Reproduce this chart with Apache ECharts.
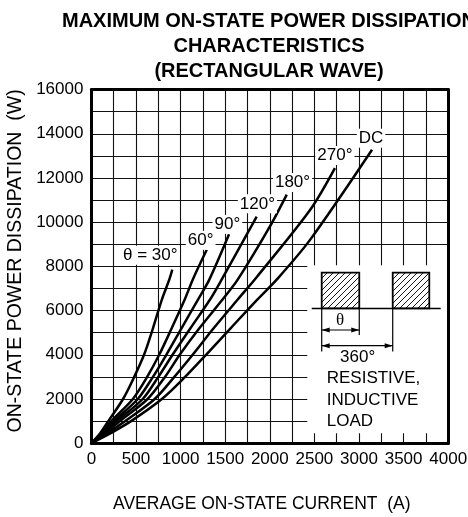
<!DOCTYPE html>
<html><head><meta charset="utf-8">
<script src="https://cdn.jsdelivr.net/npm/echarts@6/dist/echarts.min.js"></script>
<style>html,body{margin:0;padding:0;background:#fff}#c{width:468px;height:517px}</style>
</head><body><div id="c"></div>
<script>
// ---- data ----
const xTickLabels = [0, 500, 1000, 1500, 2000, 2500, 3000, 3500, 4000];
const yTickLabels = [0, 2000, 4000, 6000, 8000, 10000, 12000, 14000, 16000];
const curveNames = ['θ = 30°', '60°', '90°', '120°', '180°', '270°', 'DC'];
const theta30  = [[0,0],[90,400],[190,1000],[355,2000],[480,3000],[590,4000],[690,5200],[790,6500],[873,7400],[907,7850]];
const theta60  = [[0,0],[110,420],[225,1000],[465,2000],[625,3000],[760,4000],[900,5200],[1046,6500],[1136,7400],[1293,8750]];
const theta90  = [[0,0],[120,420],[255,1000],[520,2000],[690,3000],[840,4000],[1010,5200],[1195,6500],[1322,7400],[1543,9450]];
const theta120 = [[0,0],[130,420],[285,1000],[575,2000],[750,3000],[910,4000],[1110,5200],[1330,6500],[1460,7400],[1853,10250]];
const theta180 = [[0,0],[150,430],[320,1000],[630,2000],[825,3000],[990,4000],[1210,5200],[1470,6500],[1640,7400],[2000,9800],[2190,11250]];
const theta270 = [[0,0],[170,420],[380,1000],[710,2000],[930,3000],[1135,4000],[1370,5200],[1640,6500],[1850,7500],[2451,10550],[2730,12450]];
const dcCurve  = [[0,0],[200,420],[445,1000],[790,2000],[1050,3000],[1285,4000],[1560,5200],[1860,6500],[2077,7400],[2451,9200],[3146,13280]];
const curves = [theta30, theta60, theta90, theta120, theta180, theta270, dcCurve];

// ---- layout (annotation anchors, in data units) ----
const labelAnchors = [[660,8500],[1225,9180],[1524,9900],[1861,10830],[2255,11800],[2730,13020],[3135,13800]];
const insetBox = [[2420,450],[4000,8050]];
const inset = {
  baseY: 6100, baseX: [2470, 3916], pulseTop: 7715,
  pulses: [[2582, 3003], [3378, 3788]],
  thetaArrowY: 5122, spanArrowY: 4412, tickEndTheta: 4900, tickEndSpan: 4150,
  thetaText: [2787, 5538], spanText: [2985, 3880],
  loadX: 2638, loadY: [2935, 1950, 973]
};

const FONT = '"Liberation Sans", Arial, Helvetica, sans-serif';
const chart = echarts.init(document.getElementById('c'));

const frameLine = {show: true, onZero: false, lineStyle: {color: '#000', width: 3}};
const gridLine = {show: true, lineStyle: {color: '#111', width: 1.1}};

const series = curves.map((d, i) => ({
  type: 'line', name: curveNames[i], data: d, showSymbol: false, smooth: 0.3,
  lineStyle: {color: '#000', width: 2.5}, silent: true, z: 2
}));
// white inset panel hiding the grid behind the waveform sketch
series.push({
  type: 'line', data: [], silent: true, z: 3,
  markArea: {silent: true, itemStyle: {color: '#fff', borderWidth: 0, opacity: 1}, label: {show: false},
             data: [[{coord: insetBox[0]}, {coord: insetBox[1]}]]}
});

chart.setOption({
  animation: false,
  backgroundColor: '#fff',
  title: {
    text: 'MAXIMUM ON-STATE POWER DISSIPATION\nCHARACTERISTICS\n(RECTANGULAR WAVE)',
    left: 269, top: 9, padding: 0, textAlign: 'center',
    textStyle: {fontSize: 20, fontWeight: 'bold', color: '#000', lineHeight: 25, fontFamily: FONT}
  },
  grid: {left: 91.4, right: 19.8, top: 89.6, bottom: 73.8, containLabel: false, outerBoundsMode: 'none'},
  xAxis: [{
    type: 'value', min: 0, max: 4000, interval: 250, position: 'bottom',
    axisLine: frameLine, axisTick: {show: false}, splitLine: gridLine,
    axisLabel: {color: '#000', fontSize: 17, fontFamily: FONT, margin: 8,
      formatter: v => xTickLabels.includes(v) ? String(v) : ''},
    name: 'AVERAGE ON-STATE CURRENT  (A)', nameLocation: 'middle', nameGap: 52,
    nameTextStyle: {color: '#000', fontSize: 17.5, fontFamily: FONT, padding: [0, 16, 0, 0]}
  }, {
    type: 'value', min: 0, max: 4000, position: 'top', z: 10,
    axisLine: frameLine, axisTick: {show: false}, axisLabel: {show: false}, splitLine: {show: false}
  }],
  yAxis: [{
    type: 'value', min: 0, max: 16000, interval: 1000, position: 'left',
    axisLine: frameLine, axisTick: {show: false}, splitLine: gridLine,
    axisLabel: {color: '#000', fontSize: 17, fontFamily: FONT, margin: 8,
      formatter: v => yTickLabels.includes(v) ? String(v) : ''},
    name: 'ON-STATE POWER DISSIPATION  (W)', nameLocation: 'middle', nameGap: 62, nameRotate: 90,
    nameTextStyle: {color: '#000', fontSize: 19.5, fontFamily: FONT, padding: [0, 0, 0, 11]}
  }, {
    type: 'value', min: 0, max: 16000, position: 'right', z: 10,
    axisLine: frameLine, axisTick: {show: false}, axisLabel: {show: false}, splitLine: {show: false}
  }],
  series: series
});

// ---- annotations drawn in data coordinates ----
function P(x, y) { return chart.convertToPixel({xAxisIndex: 0, yAxisIndex: 0}, [x, y]); }
const hatch = document.createElement('canvas');
hatch.width = 6; hatch.height = 6;
(function () {
  const g = hatch.getContext('2d');
  g.strokeStyle = '#000'; g.lineWidth = 0.9;
  g.beginPath();
  g.moveTo(0, 6); g.lineTo(6, 0);
  g.moveTo(-1, 1); g.lineTo(1, -1);
  g.moveTo(5, 7); g.lineTo(7, 5);
  g.stroke();
})();
const els = [];
const Z = 50;
function line(a, b, w) {
  els.push({type: 'line', z: Z, silent: true, shape: {x1: a[0], y1: a[1], x2: b[0], y2: b[1]},
            style: {stroke: '#000', lineWidth: w || 1.2}});
}
function arrow(xa, xb, y) {
  const a = P(xa, y), b = P(xb, y);
  line(a, b, 1.2);
  els.push({type: 'polygon', z: Z, silent: true,
    shape: {points: [[a[0], a[1]], [a[0] + 8, a[1] - 2.5], [a[0] + 8, a[1] + 2.5]]}, style: {fill: '#000'}});
  els.push({type: 'polygon', z: Z, silent: true,
    shape: {points: [[b[0], b[1]], [b[0] - 8, b[1] - 2.5], [b[0] - 8, b[1] + 2.5]]}, style: {fill: '#000'}});
}
function text(t, pos, align, font, bg) {
  const st = {text: t, x: pos[0], y: pos[1], fill: '#000', font: font || ('17px ' + FONT),
              textAlign: align, align: align, textVerticalAlign: 'middle', verticalAlign: 'middle'};
  if (bg) { st.backgroundColor = '#fff'; st.padding = [1, 2]; }
  els.push({type: 'text', z: Z, silent: true, style: st});
}
// curve labels with white boxes over the grid
labelAnchors.forEach((p, i) => text(curveNames[i], P(p[0], p[1]), 'center', null, true));
// waveform sketch
inset.pulses.forEach(p => {
  const tl = P(p[0], inset.pulseTop), br = P(p[1], inset.baseY);
  els.push({type: 'rect', z: Z, silent: true,
    shape: {x: tl[0], y: tl[1], width: br[0] - tl[0], height: br[1] - tl[1]},
    style: {fill: {image: hatch, repeat: 'repeat'}, stroke: '#000', lineWidth: 1.8}});
});
line(P(inset.baseX[0], inset.baseY), P(inset.baseX[1], inset.baseY), 1.5);
line(P(inset.pulses[0][0], inset.baseY), P(inset.pulses[0][0], inset.tickEndSpan), 1.2);
line(P(inset.pulses[0][1], inset.baseY), P(inset.pulses[0][1], inset.tickEndTheta), 1.2);
line(P(inset.pulses[1][0], inset.baseY), P(inset.pulses[1][0], inset.tickEndSpan), 1.2);
arrow(inset.pulses[0][0], inset.pulses[0][1], inset.thetaArrowY);
arrow(inset.pulses[0][0], inset.pulses[1][0], inset.spanArrowY);
text('θ', P(inset.thetaText[0], inset.thetaText[1]), 'center', '17px "Liberation Serif", "Times New Roman", serif');
text('360°', P(inset.spanText[0], inset.spanText[1]), 'center');
['RESISTIVE,', 'INDUCTIVE', 'LOAD'].forEach((t, i) => text(t, P(inset.loadX, inset.loadY[i]), 'left'));
chart.setOption({graphic: {elements: els}});
</script></body></html>
